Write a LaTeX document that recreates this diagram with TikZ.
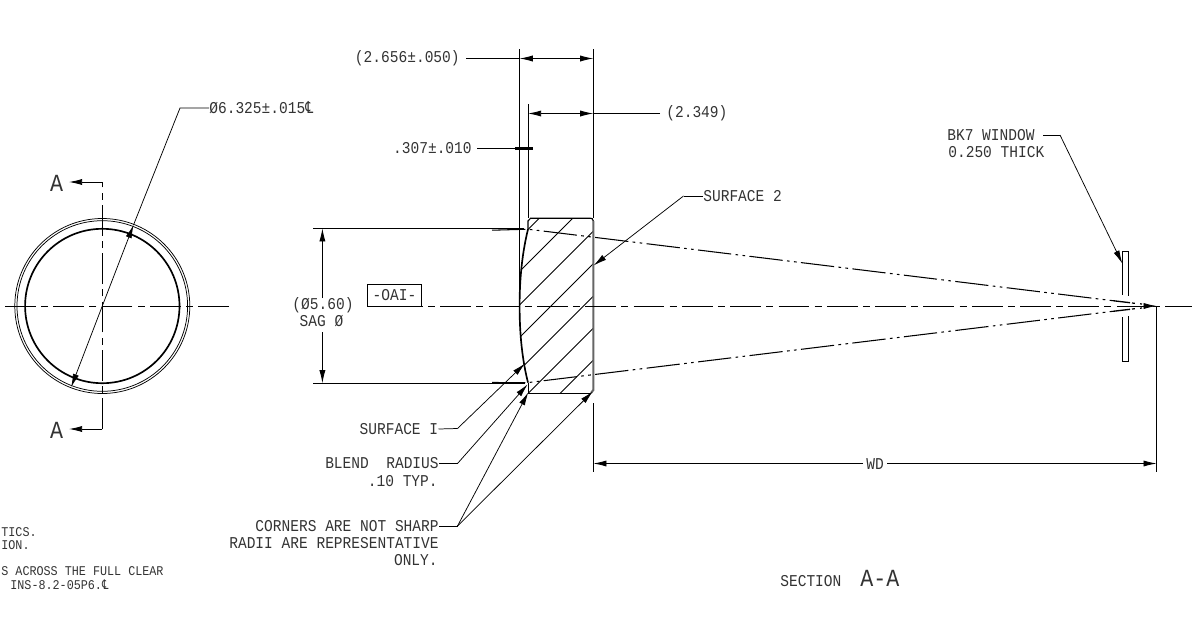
\documentclass[tikz,border=0pt]{standalone}
\usepackage{fontspec}
\usepackage{tikz}
\usetikzlibrary{arrows.meta}
\newfontfamily\cadfont[FakeStretch=0.88]{Liberation Mono}
\newfontfamily\symfont[FakeStretch=0.75]{DejaVu Sans}
\newcommand{\clmark}{{\symfont\char"2104}}
\tikzset{>=stealth}
\tikzset{
  cad/.style={font=\cadfont\fontsize{9.4}{9.4}\selectfont,inner sep=0pt,text=black!80},
  cadbig/.style={font=\cadfont\fontsize{14}{14}\selectfont,inner sep=0pt,text=black!80},
  cadsmall/.style={font=\cadfont\fontsize{7.6}{7.6}\selectfont,inner sep=0pt,text=black!80},
  thinline/.style={line width=0.5pt},
  leadline/.style={line width=0.42pt},
  boldline/.style={line width=0.95pt},
  dimarrow/.style={thinline,-{Latex[length=7.5pt,width=3.5pt]}},
  leadarrow/.style={leadline,-{Latex[length=7.5pt,width=3.5pt]}},
  axisline/.style={thinline,dash pattern=on 17.5pt off 3pt on 4pt off 3pt},
  rayline/.style={line width=0.6pt,dash pattern=on 19pt off 2.5pt on 1.5pt off 2.5pt on 1.5pt off 2.5pt},
}
\begin{document}
\begin{tikzpicture}[x=0.02cm,y=-0.02cm]
  \useasboundingbox (0,0) rectangle (1194,623);

  % Front view
  \draw [leadline] (102.3,306) circle (87.5);
  \draw [leadline] (102.3,306) circle (85.3);
  \draw [boldline] (102.3,306) circle (77.2);
  \draw [axisline] (229,306) -- (0,306);
  \draw [axisline] (102.3,429) -- (102.3,182);
  \coordinate (sectop) at (102.3,182);
  \coordinate (secbot) at (102.3,429);
  \node [cadbig] (atop) at (56.5,183.5) {A};
  \node [cadbig] (abot) at (56.5,430.5) {A};
  \draw [dimarrow] (sectop) -- (69,182);
  \draw [dimarrow] (secbot) -- (69,429);

  \node [cad,anchor=west] (dialbl) at (209,108) {Ø6.325±.015\clmark};
  \coordinate (diabend) at (180,108);
  \coordinate (diatop) at (133.5,225);
  \coordinate (diabot) at (71.2,387);
  \draw [leadline] (dialbl.west) -- (diabend) -- (diatop);
  \draw [leadarrow] (102.3,306) -- (diatop);
  \draw [leadarrow] (102.3,306) -- (diabot);

  % Section view
  \begin{scope}
    \clip (528,229.2) .. controls (521,258) and (519.6,285) .. (519.6,306) .. controls (519.6,327) and (521,355) .. (528,382.6)
      -- (528,393) -- (591,393) -- (593.3,390) -- (593.3,221) -- (590.5,218.3) -- (528,218.3) -- cycle;
    \foreach \hatchsum in {757.5,791,824.5,857,889.5,921.5,953.5} {
      \draw [leadline] (\hatchsum-600,600) -- (\hatchsum-100,100);
    }
  \end{scope}
  \draw [line width=0.65pt] (528,229.2) -- (528,221) -- (530.5,218.3) -- (590.5,218.3)
    .. controls (592.3,218.3) .. (593.3,221);
  \draw [line width=0.55pt] (528,382.6) -- (528,393.4) -- (591,393.4);
  \draw [line width=1.2pt,black!60] (593.3,221) -- (593.3,390) -- (591,393);
  \draw [boldline] (528,229.2) .. controls (521,258) and (519.6,285) .. (519.6,306)
    .. controls (519.6,327) and (521,355) .. (528,382.6);

  \draw [axisline] (392,306) -- (1192,306);
  \draw [rayline] (492,230.2) -- (528,229.2) -- (1113,300.7);
  \draw [rayline] (492,382.5) -- (528,382.6) -- (1113,311.3);

  % Dimensions above the lens
  \draw [thinline] (519.6,49) -- (519.6,306);
  \draw [thinline] (528,104) -- (528,218);
  \draw [thinline] (593.3,49) -- (593.3,218);

  \node [cad,anchor=east] (dimtotal) at (460,58.5) {(2.656±.050)};
  \draw [thinline] (466,58.5) -- (519.6,58.5);
  \draw [dimarrow] (556,58.5) -- (519.6,58.5);
  \draw [dimarrow] (556,58.5) -- (593.3,58.5);

  \node [cad,anchor=west] (dimback) at (666,113.5) {(2.349)};
  \draw [thinline] (660,113.5) -- (593.3,113.5);
  \draw [dimarrow] (560,113.5) -- (528,113.5);
  \draw [dimarrow] (560,113.5) -- (593.3,113.5);

  \node [cad,anchor=east] (dimsag) at (472,148.5) {.307±.010};
  \draw [thinline] (477,148.5) -- (515,148.5);
  \draw [line width=1.5pt] (515,148.5) -- (533,148.5);

  % Clear aperture
  \draw [thinline] (313,228.3) -- (524,228.3);
  \draw [thinline] (313,383.3) -- (525,383.3);
  \node [cad] (dialine) at (323,305) {(Ø5.60)};
  \node [cad] (saglbl) at (321.5,321.5) {SAG Ø};
  \draw [dimarrow] (322.4,298) -- (322.4,228.3);
  \draw [dimarrow] (322.4,332) -- (322.4,383.3);

  \node [draw,thinline,cad,minimum width=54.4*0.02cm,minimum height=22*0.02cm] (datum) at (394.5,295.3) {-OAI-};

  % Leaders
  \node [cad,anchor=west] (surftwo) at (703,196) {SURFACE 2};
  \coordinate (surftwobend) at (683.5,196);
  \draw [leadline] (surftwo.west) -- (surftwobend);
  \draw [leadarrow] (surftwobend) -- (593.6,265.5);

  \node [cad,anchor=east] (surfone) at (438.5,429) {SURFACE I};
  \coordinate (surfonebend) at (457.5,428.5);
  \draw [leadline] (surfone.east) -- (surfonebend);
  \draw [leadarrow] (surfonebend) -- (525,363.5);

  \node [cad,anchor=east] (blend) at (439,463.5) {BLEND\ \ RADIUS};
  \node [cad,anchor=east] (blendtyp) at (438,481.5) {.10 TYP.};
  \coordinate (blendbend) at (457.5,463.5);
  \draw [leadline] (blend.east) -- (blendbend);
  \draw [leadarrow] (blendbend) -- (527.7,384.3);

  \node [cad,anchor=east] (cornera) at (439,526) {CORNERS ARE NOT SHARP};
  \node [cad,anchor=east] (cornerb) at (439,543) {RADII ARE REPRESENTATIVE};
  \node [cad,anchor=east] (cornerc) at (438,560) {ONLY.};
  \coordinate (cornerbend) at (457.5,526);
  \draw [leadline] (cornera.east) -- (cornerbend);
  \draw [leadarrow] (cornerbend) -- (528.3,392.3);
  \draw [leadarrow] (cornerbend) -- (592.8,391.5);

  % Window
  \draw [thinline] (1122.3,263) -- (1122.3,251.3) -- (1128.5,251.3) -- (1128.5,295.5);
  \draw [thinline] (1128.5,316) -- (1128.5,361.3) -- (1122.3,361.3) -- (1122.3,350);
  \draw [rayline] (1122.3,263) -- (1122.3,295);
  \draw [rayline] (1122.3,350) -- (1122.3,317);
  \draw [line width=0.75pt] (1113,300.7) -- (1130,302.7);
  \draw [line width=0.75pt] (1113,311.3) -- (1130,309.3);
  \draw [line width=0.7pt,dash pattern=on 1.6pt off 3pt] (1132,303) -- (1142,304);
  \draw [line width=0.7pt,dash pattern=on 1.6pt off 3pt] (1132,309) -- (1142,308);
  \node [cad,anchor=west] (windowa) at (947,135) {BK7 WINDOW};
  \node [cad,anchor=west] (windowb) at (948,152) {0.250 THICK};
  \coordinate (windowbend) at (1060,135);
  \draw [leadline] (1043,135) -- (windowbend);
  \draw [leadarrow] (windowbend) -- (1122.3,263.5);
  \coordinate (focus) at (1156.7,306);
  \draw [dimarrow] (1144,306) -- (focus);

  % Working distance
  \draw [thinline] (593.3,403) -- (593.3,472);
  \draw [thinline] (focus) -- (1156.7,472);
  \node [cad] (wdlbl) at (875,464) {WD};
  \draw [dimarrow] (863,463.5) -- (593.3,463.5);
  \draw [dimarrow] (887,463.5) -- (1156.7,463.5);

  \node [cad,anchor=west] (seclbl) at (780,581) {SECTION};
  \node [cadbig,anchor=west] (secname) at (860,578) {A-A};

  % Notes, cut off at the left edge
  \node [cadsmall,anchor=west] (notea) at (1,532) {TICS.};
  \node [cadsmall,anchor=west] (noteb) at (1,545) {ION.};
  \node [cadsmall,anchor=west] (notec) at (1,571) {S ACROSS THE FULL CLEAR};
  \node [cadsmall,anchor=west] (noted) at (10,585) {INS-8.2-05P6.\clmark};
\end{tikzpicture}
\end{document}
